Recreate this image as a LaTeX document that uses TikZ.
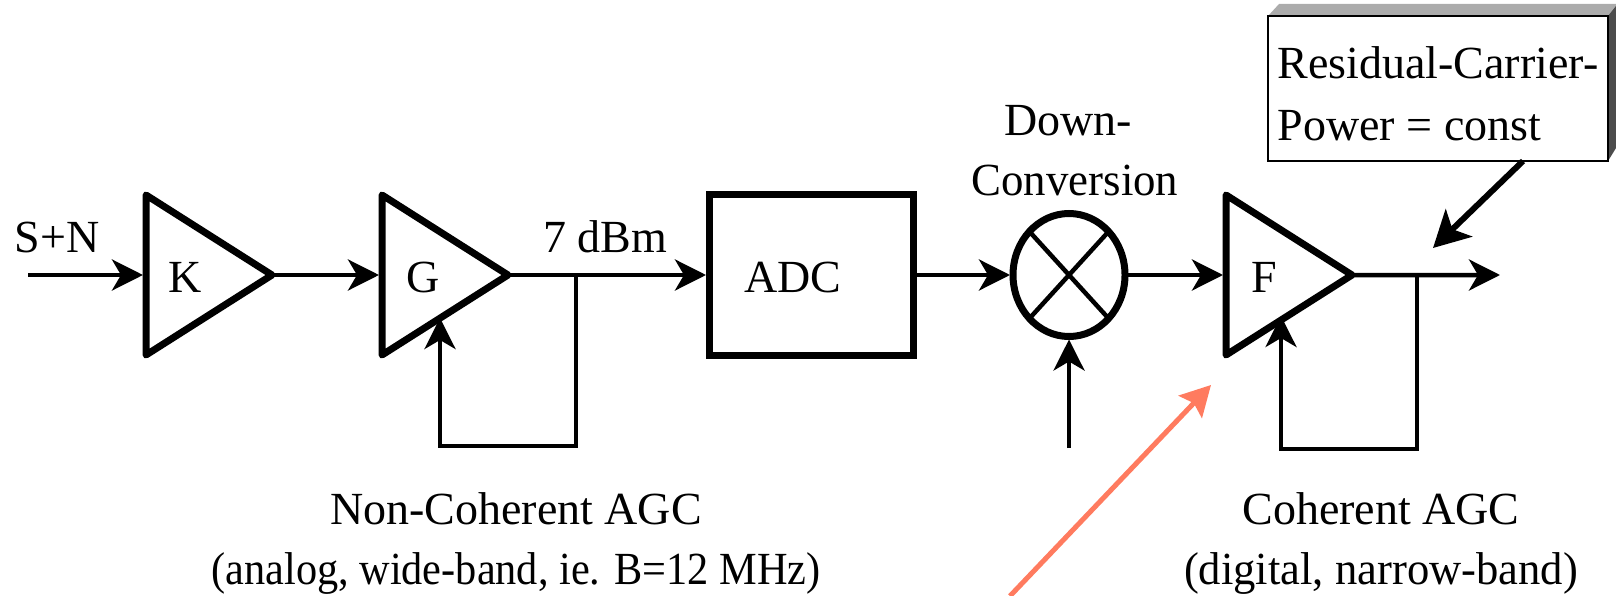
\documentclass[tikz,border=0pt]{standalone}
\usepackage{fontspec}
\setmainfont{Liberation Serif}
\usetikzlibrary{arrows.meta,positioning,shapes.geometric}
\definecolor{coral}{HTML}{FF7B5F}
\begin{document}
\begin{tikzpicture}[
    x=1pt, y=-1pt,
    font=\fontsize{46}{60}\selectfont,
    amp/.style={draw, isosceles triangle, isosceles triangle apex angle=64, isosceles triangle stretches, line width=7pt, minimum width=160pt, minimum height=126pt, inner sep=0pt, outer sep=0pt, line join=round, text height=35pt},
    adcbox/.style={draw, rectangle, line width=7pt, minimum width=204pt, minimum height=161pt, outer sep=0pt, text height=35pt},
    mixer/.style={draw, ellipse, line width=7pt, minimum width=112pt, minimum height=123pt, inner sep=0pt, outer sep=0pt},
    note/.style={draw, rectangle, fill=white, line width=1.5pt, align=left, minimum width=340pt, minimum height=145pt, inner sep=9pt, outer sep=0pt, font=\fontsize{46}{62}\selectfont},
    lbl/.style={align=center, inner sep=0pt},
    arr/.style={-{Stealth[length=31pt, width=31pt, inset=9pt]}, line width=4.5pt, shorten >=3pt},
    callarr/.style={-{Stealth[length=36pt, width=38pt, inset=9pt]}, line width=6pt},
    redarr/.style={-{Stealth[length=30pt, width=32pt, inset=5pt]}, line width=5pt, coral}
  ]
    \useasboundingbox (0,0) rectangle (1616,596);

    \node[amp, anchor=west] (kamp) at (146,275) {K};
    \node[amp, right=110pt of kamp] (gamp) {G\hspace*{-5pt}};
    \node[adcbox, right=201pt of gamp] (adc) {ADC\hspace*{36pt}};
    \node[mixer, right=100pt of adc] (mix) {};
    \node[amp, right=101pt of mix] (famp) {F};

    \draw[line width=4.5pt] (mix.north west) -- (mix.south east);
    \draw[line width=4.5pt] (mix.north east) -- (mix.south west);

    % bevel behind the note
    \fill[gray!65] (1268,16) -- (1279,4) -- (1616,4) -- (1616,20) -- (1608,20) -- (1608,16) -- cycle;
    \fill[black!70] (1608,16) -- (1616,6) -- (1616,148) -- (1608,161) -- cycle;
    \node[note, anchor=north west] (resid) at (1268,16) {\rule{0pt}{43pt}Residual-Carrier-\\Power = const};

    \node[lbl, anchor=base] (snlbl) at (57,252) {S+N};
    \node[lbl, anchor=base] (dbm) at (605,252) {7 dBm};
    \node[lbl, anchor=base] (down) at (1075,196) {Down-\hspace*{14pt}\\\scalebox{0.975}[1]{Conversion}};
    \node[lbl, anchor=base] (ncagc) at (516,584) {Non-Coherent AGC\\\scalebox{0.92}[1]{(analog, wide-band, ie. B=12 MHz)}};
    \node[lbl, anchor=base] (cagc) at (1381,584) {Coherent AGC\\\scalebox{0.97}[1]{(digital, narrow-band)}};

    \coordinate (start) at (28,275);
    \coordinate (gtap) at (576,275);
    \coordinate (gbot) at (440,446);
    \coordinate (gtip) at (440,315);
    \coordinate (ftap) at (1417,275);
    \coordinate (fbot) at (1281,449);
    \coordinate (ftip) at (1281,313);
    \coordinate (out) at (1503,275);
    \coordinate (lo) at (mix.south |- 0,448);
    \coordinate (calltip) at (1433,248);
    \coordinate (redstart) at (1010,596);
    \coordinate (redend) at (1211,385);

    \draw[arr] (start) -- (kamp.west);
    \draw[arr] (kamp.east) -- (gamp.west);
    \draw[arr] (gamp.east) -- (adc.west);
    \draw[arr] (adc.east) -- (mix.west);
    \draw[arr] (mix.east) -- (famp.west);
    \draw[arr] (famp.east) -- (out);
    \draw[arr] (gtap) |- (gbot) -- (gtip);
    \draw[arr] (ftap) |- (fbot) -- (ftip);
    \draw[arr] (lo) -- (mix.south);
    \draw[callarr] ([xshift=85pt]resid.south) -- (calltip);
    \draw[redarr] (redstart) -- (redend);
\end{tikzpicture}
\end{document}
